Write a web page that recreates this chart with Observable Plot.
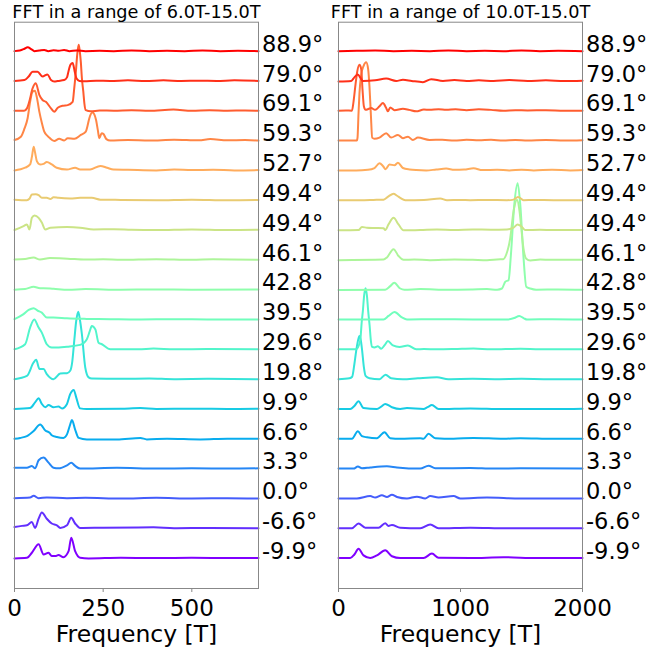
<!DOCTYPE html>
<html><head><meta charset="utf-8">
<script src="https://cdn.jsdelivr.net/npm/d3@7"></script>
<script src="https://cdn.jsdelivr.net/npm/@observablehq/plot@0.6"></script>
<style>
html,body{margin:0;padding:0;background:#fff;overflow:hidden}
#chart{position:relative;width:646px;height:651px;overflow:hidden;font-family:"DejaVu Sans"}
#chart svg{position:absolute;top:0}
</style></head><body><div id="chart"></div>
<script>
// Angle labels, bottom (index 0) to top (index 17)
const angles = ["-9.9","-6.6","0.0","3.3","6.6","9.9","19.8","29.6","39.5","42.8","46.1","49.4","49.4","52.7","59.3","69.1","79.0","88.9"];
const leftTitle = "FFT in a range of 6.0T-15.0T";
const rightTitle = "FFT in a range of 10.0T-15.0T";
const xLabel = "Frequency [T]";
const leftTicks = [0, 250, 500];
const rightTicks = [0, 1000, 2000];
const leftMax = 688;
const rightMax = 2000;

// Left panel (6.0T-15.0T): [frequency, amplitude above the trace's baseline]
const left00 = [[0,-0.01],[35,0.01],[49,0.18],[68,0.46],[82,0.12],[96,0.18],[105,0.07],[115,0.07],[124,0.1],[138,0.03],[152.5,0.23],[160,0.68],[171,0.23],[185,0.01],[209,-0.01],[300,0.01],[400,0.0],[500,0.01],[600,0.0],[688,0.0]];
const left01 = [[0,0.04],[21,0.08],[35,0.1],[49,0.21],[58,0.01],[68,0.32],[77,0.53],[91,0.32],[105,0.16],[119.5,0.1],[129,0.01],[148,0.1],[160,0.35],[171,0.16],[185,0.01],[250,0.02],[392,0.03],[450,0.0],[550,0.01],[688,0.0]];
const left02 = [[0,0.01],[44,0.03],[54,0.09],[68,0.01],[91,0.03],[148,0.01],[200,0.02],[300,0.0],[400,0.02],[500,0.0],[600,0.01],[688,0.0]];
const left03 = [[0,0.03],[35,0.03],[49,0.09],[58,0.01],[68,0.28],[82,0.37],[96,0.2],[110,0.03],[124,0.01],[148,0.11],[160,0.2],[171,0.09],[185,0.0],[289,0.03],[400,0.0],[500,0.01],[600,0.0],[688,0.01]];
const left04 = [[0,0.0],[16,0.03],[35,0.09],[54,0.26],[72.5,0.48],[87,0.28],[99,0.2],[105,0.12],[119.5,0.06],[138,0.03],[148,0.15],[157,0.48],[162,0.63],[171,0.31],[181,0.03],[204,-0.02],[289,-0.02],[355,0.03],[373,-0.02],[430,0.0],[524,-0.02],[600,0.0],[688,0.0]];
const left05 = [[0,0.0],[44,0.03],[58,0.22],[68,0.36],[77,0.17],[87,0.06],[96,0.13],[110,0.06],[124,0.08],[134,0.02],[148,0.17],[157,0.5],[167,0.64],[174,0.39],[185,0.02],[204,0.0],[300,0.01],[355,0.03],[400,0.0],[500,0.01],[600,0.0],[688,0.01]];
const left06 = [[0,0.0],[35,0.11],[54,0.56],[61,0.65],[70.6,0.34],[82,0.34],[91,0.17],[110,0.0],[129,0.19],[148,0.2],[157,0.28],[163,0.6],[168.5,1.29],[174,1.95],[179.7,2.26],[185,1.95],[190,1.51],[199.5,0.39],[209,0.06],[218,0.02],[300,0.01],[380,0.02],[450,0.0],[550,0.01],[688,0.0]];
const left07 = [[0,0.0],[30,0.17],[44,0.73],[55.6,1.0],[68,0.73],[77,0.56],[91,0.17],[105,0.06],[148,0.09],[185,0.15],[204,0.34],[212,0.6],[218,0.78],[228,0.67],[237,0.22],[246.5,0.17],[270,0.0],[350,0.0],[392,0.03],[450,0.0],[550,0.01],[688,0.0]];
const left08 = [[0,0.01],[25.5,0.18],[40,0.32],[54,0.38],[65,0.3],[77,0.23],[91,0.07],[110,0.07],[148,0.04],[204,0.02],[270,0.01],[350,0.0],[450,0.01],[550,0.0],[688,0.0]];
const left09 = [[0,0.0],[30,0.02],[54,0.1],[72,0.05],[82,0.05],[110,0.03],[152,0.0],[200,0.02],[300,0.0],[400,0.01],[500,0.0],[688,0.01]];
const left10 = [[0,0.01],[30,0.03],[54,0.08],[72,0.01],[100,0.06],[150,0.04],[200,0.01],[250,0.02],[300,0.0],[400,0.02],[500,0.0],[560,0.02],[688,0.0]];
const left11 = [[0,0.0],[25.5,0.13],[35,0.19],[42,0.02],[49,0.41],[56.5,0.49],[68,0.41],[77,0.25],[87,0.02],[101,0.08],[148,0.1],[185,0.08],[223,0.02],[280,0.03],[330,0.01],[400,0.0],[500,0.02],[600,0.0],[688,0.01]];
const left12 = [[0,0.02],[35,0.0],[42,0.05],[49,0.19],[60,0.2],[68,0.17],[77,0.08],[91,0.08],[101,0.04],[110,0.1],[124,0.08],[157,0.06],[185,0.08],[218,0.08],[242,0.02],[300,0.01],[400,0.0],[500,0.02],[600,0.0],[688,0.01]];
const left13 = [[0,0.0],[30,0.09],[44,0.2],[49,0.45],[54,0.79],[58,0.6],[63,0.31],[72,0.2],[82,0.22],[91,0.28],[105,0.2],[119,0.09],[148,0.03],[171,0.09],[185,0.03],[213,0.03],[242,0.15],[261,0.09],[279,0.03],[320,0.02],[400,0.0],[450,0.03],[500,0.01],[560,0.02],[620,0.0],[688,0.01]];
const left14 = [[0,0.02],[18,0.13],[28,0.4],[37,0.75],[44,1.3],[51,1.64],[57.5,1.67],[63,1.45],[70,0.97],[77,0.6],[84,0.3],[91,0.18],[98,0.1],[112,-0.01],[126,0.06],[140,0.0],[150,0.08],[169,0.06],[187,0.19],[201,0.3],[206,0.5],[211,0.75],[220,0.94],[225,0.88],[230,0.69],[235,0.35],[239,0.08],[246,0.25],[251,0.22],[259,0.05],[270,0.0],[320,0.02],[380,0.0],[450,0.03],[520,0.01],[552,0.05],[600,0.01],[650,0.02],[688,0.0]];
const left15 = [[0,0.0],[27,0.0],[35,0.08],[41.5,0.3],[51,0.75],[60,0.92],[70,0.53],[79,0.36],[88.5,0.3],[103,0.08],[112,-0.03],[122,0.1],[136,0.17],[150,0.19],[164,0.3],[168,0.7],[173,1.31],[177,1.9],[181,2.21],[184,2.0],[187,1.64],[190,1.1],[194,0.64],[197,0.25],[201,0.02],[215,-0.02],[240,0.01],[280,0.0],[330,0.02],[380,0.0],[448,0.04],[500,0.0],[550,0.02],[600,0.0],[650,0.01],[688,0.0]];
const left16 = [[0,0.0],[28,0.03],[40,0.15],[51,0.31],[65,0.31],[79,0.15],[93,0.22],[103,0.03],[112,-0.02],[122,0.0],[140,0.03],[148,0.12],[152,0.31],[158,0.55],[164,0.6],[170,0.3],[175,0.08],[183,0.0],[197,-0.01],[230,0.01],[270,0.0],[320,0.02],[370,0.0],[420,0.02],[470,0.0],[520,0.01],[570,0.0],[620,0.02],[688,0.0]];
const left17 = [[0,0.0],[15,0.02],[28,0.08],[37,0.13],[48,0.06],[56,0.0],[70,0.02],[84,0.04],[95,0.0],[110,0.03],[125,0.01],[140,0.04],[155,0.0],[175,0.02],[200,0.0],[240,0.01],[280,0.0],[330,0.02],[380,0.0],[430,0.01],[480,0.0],[530,0.02],[580,0.0],[630,0.01],[688,0.0]];

// Right panel (10.0T-15.0T)
const right00 = [[0,0.0],[96,0.0],[130,0.12],[164,0.31],[205,0.09],[260,0.0],[315,0.09],[383,0.26],[438,0.06],[506,0.0],[697,0.0],[766,0.15],[820,0.01],[1080,0.0],[1353,0.03],[1626,0.0],[2000,0.0]];
const right01 = [[0,0.0],[110,0.0],[164,0.16],[219,0.02],[328,0.02],[383,0.17],[410,0.08],[438,0.11],[506,0.02],[670,0.0],[752,0.13],[820,0.0],[1080,0.02],[1381,0.0],[2000,0.0]];
const right02 = [[0,0.0],[151,0.0],[260,0.08],[301,0.03],[356,0.11],[397,0.05],[438,0.12],[479,0.05],[561,0.0],[643,0.06],[711,0.0],[752,0.08],[820,0.03],[943,0.08],[998,0.0],[1217,0.03],[1490,0.0],[2000,0.0]];
const right03 = [[0,0.0],[123,0.0],[159,0.07],[192,0.01],[260,0.04],[397,0.08],[479,0.04],[670,0.0],[738,0.1],[793,0.01],[1080,0.02],[1271,0.0],[1490,0.01],[2000,0.0]];
const right04 = [[0,0.0],[110,0.0],[159,0.25],[192,0.09],[233,0.05],[315,0.02],[377,0.22],[424,0.02],[506,0.0],[670,0.02],[697,0.0],[738,0.17],[793,0.02],[943,0.0],[1107,0.03],[1353,0.0],[1490,0.02],[1763,0.0],[2000,0.0]];
const right05 = [[0,0.0],[96,0.0],[130,0.1],[164,0.26],[205,0.03],[315,0.0],[350,0.08],[383,0.17],[438,0.06],[506,0.0],[561,0.03],[697,0.0],[730,0.06],[766,0.13],[820,0.0],[1080,0.02],[1350,0.0],[1763,0.0],[2000,0.01]];
const right06 = [[0,0.0],[90,0.03],[112,0.08],[130,0.5],[145,0.95],[160,1.3],[172,1.45],[183,1.3],[194,0.95],[208,0.4],[222,0.11],[254,0.03],[336,0.0],[386,0.15],[432,0.03],[528,0.0],[650,0.03],[807,0.06],[900,0.0],[1100,0.01],[1300,0.0],[1500,0.01],[1700,0.0],[2000,0.0]];
const right07 = [[0,0.0],[145,0.0],[178,0.3],[190,0.9],[200,1.3],[210,1.8],[222,2.05],[233,1.8],[243,1.3],[255,0.8],[265,0.3],[276,0.08],[295,0.06],[323,0.1],[350,0.02],[380,0.15],[405,0.28],[446,0.13],[500,0.08],[569,0.13],[637,0.0],[700,0.01],[807,0.0],[950,0.01],[1107,0.03],[1250,0.0],[1490,0.02],[1650,0.0],[2000,0.0]];
const right08 = [[0,0.0],[369,0.0],[410,0.12],[459,0.25],[520,0.07],[561,0.0],[800,0.01],[1100,0.0],[1381,0.0],[1440,0.05],[1482,0.12],[1520,0.04],[1545,0.0],[1750,0.01],[2000,0.0]];
const right09 = [[0,-0.01],[383,0.0],[424,0.12],[457,0.23],[506,0.04],[540,0.0],[670,0.02],[900,0.0],[1100,0.01],[1217,0.02],[1300,0.0],[1340,0.04],[1367,0.27],[1394,0.32],[1413,1.16],[1441,2.85],[1468,3.57],[1490,2.85],[1517,1.05],[1539,0.1],[1572,0.04],[1620,0.0],[1800,0.01],[2000,0.0]];
const right10 = [[0,-0.01],[369,0.01],[397,0.08],[451,0.36],[492,0.13],[533,0.0],[620,0.01],[750,-0.01],[950,0.01],[1100,0.0],[1217,-0.01],[1326,0.02],[1350,0.02],[1375,0.18],[1408,0.74],[1435,1.63],[1463,2.02],[1484,1.63],[1500,1.0],[1512,0.51],[1539,0.04],[1572,-0.02],[1654,0.01],[1736,0.0],[2000,0.0]];
const right11 = [[0,-0.01],[164,0.0],[192,0.1],[233,0.08],[300,0.07],[369,0.06],[383,0.0],[410,0.19],[451,0.41],[492,0.19],[533,-0.01],[670,0.0],[807,0.02],[950,0.0],[1100,0.02],[1250,0.01],[1381,0.02],[1435,0.08],[1468,0.19],[1500,0.12],[1531,0.0],[1650,0.01],[1763,0.0],[2000,0.0]];
const right12 = [[0,0.0],[178,0.0],[287,0.01],[369,0.02],[410,0.13],[451,0.22],[480,0.15],[506,0.08],[547,0.0],[700,0.01],[834,0.06],[889,0.0],[1000,0.01],[1080,0.0],[1217,0.01],[1381,0.0],[1435,0.02],[1471,0.11],[1517,0.0],[1600,0.01],[1763,0.0],[2000,0.0]];
const right13 = [[0,0.0],[145,0.0],[241,0.02],[295,0.08],[336,0.24],[364,0.15],[386,0.04],[418,0.2],[459,0.17],[487,0.26],[528,0.08],[583,0.03],[637,0.01],[719,0.0],[801,0.03],[883,0.06],[950,0.02],[1030,0.03],[1107,0.07],[1180,0.01],[1300,0.02],[1400,0.0],[1500,0.02],[1600,0.0],[1750,0.02],[1900,0.0],[2000,0.01]];
const right14 = [[0,0.0],[100,0.0],[150,0.0],[156,0.1],[164,0.9],[172,1.6],[186,2.2],[205,2.5],[227,2.63],[243,2.4],[254,1.8],[265,0.9],[276,0.1],[295,0.06],[336,0.1],[391,0.25],[432,0.1],[487,0.19],[528,0.08],[569,0.13],[610,0.02],[651,0.1],[746,0.02],[850,0.03],[950,0.0],[1050,0.03],[1150,0.01],[1250,0.03],[1350,0.0],[1450,0.02],[1550,0.0],[1700,0.02],[1850,0.0],[2000,0.01]];
const right15 = [[0,0.0],[60,0.01],[110,0.0],[123,0.3],[140,0.9],[153,1.3],[172,1.54],[186,1.4],[197,0.7],[208,0.15],[222,0.03],[240,0.05],[268,0.09],[300,0.03],[336,0.15],[364,0.26],[390,0.1],[405,-0.02],[424,0.11],[459,0.02],[528,0.07],[580,0.03],[637,-0.02],[700,0.04],[746,0.03],[820,0.05],[883,0.03],[960,0.05],[1050,0.02],[1150,0.05],[1250,0.03],[1350,0.0],[1450,0.02],[1550,0.01],[1700,0.02],[1850,0.0],[2000,0.0]];
const right16 = [[0,-0.02],[104,0.0],[130,0.12],[159,0.22],[180,0.1],[200,0.0],[300,0.02],[391,0.08],[473,0.0],[528,0.04],[600,0.0],[692,-0.04],[760,0.06],[856,0.0],[950,0.03],[1050,0.0],[1150,0.02],[1271,0.0],[1400,0.03],[1550,0.0],[1700,0.02],[1850,0.0],[2000,0.01]];
const right17 = [[0,0.0],[150,0.01],[300,0.02],[450,0.0],[600,0.01],[750,0.0],[900,0.02],[1050,0.0],[1200,0.01],[1350,0.0],[1500,0.02],[1650,0.0],[1800,0.01],[2000,0.0]];

const leftTraces = [left00,left01,left02,left03,left04,left05,left06,left07,left08,left09,left10,left11,left12,left13,left14,left15,left16,left17];
const rightTraces = [right00,right01,right02,right03,right04,right05,right06,right07,right08,right09,right10,right11,right12,right13,right14,right15,right16,right17];

// matplotlib "rainbow" colormap
function mplRainbow(t) {
  const r = Math.min(1, Math.abs(2 * t - 0.5));
  const g = Math.sin(Math.PI * t);
  const b = Math.cos(Math.PI * t / 2);
  return `rgb(${Math.round(r*255)},${Math.round(g*255)},${Math.round(b*255)})`;
}

function rowsOf(traces) {
  const rows = [];
  traces.forEach((tr, i) => tr.forEach(([f, a]) => rows.push({idx: i, f, y: i + a})));
  return rows;
}

function panel(traces, xmax, ticks, title, left, mLeft, mRight) {
  const labels = angles.map((a, i) => ({i, text: a + "\u00B0"}));
  const svg = Plot.plot({
    width: 323, height: 651,
    marginTop: 21.7, marginBottom: 63, marginLeft: mLeft, marginRight: mRight,
    x: {domain: [0, xmax]},
    y: {domain: [-1.02, 17.97], axis: null},
    style: {fontFamily: "DejaVu Sans", fontSize: "23px", background: "transparent", overflow: "visible", color: "black"},
    marks: [
      Plot.line(rowsOf(traces), {x: "f", y: "y", z: "idx", stroke: d => mplRainbow(d.idx / 17), strokeWidth: 2, curve: "monotone-x"}),
      Plot.frame({stroke: "#888"}),
      Plot.axisX({ticks, tickSize: 4, tickPadding: 7, stroke: "#888", fill: "black", fontSize: 23, tickFormat: d => String(d), label: null}),
      Plot.text(labels, {y: "i", text: "text", frameAnchor: "right", textAnchor: "start", lineAnchor: "middle", dx: 3.5, dy: -6.5, fontSize: 22.5}),
      Plot.text([title], {text: d => d, frameAnchor: "top", lineAnchor: "middle", dy: -10, fontSize: 17.7}),
      Plot.text([xLabel], {text: d => d, frameAnchor: "bottom", lineAnchor: "middle", dy: 45.5, fontSize: 23.5})
    ]
  });
  svg.style.left = left + "px";
  return svg;
}

const chart = document.getElementById("chart");
chart.appendChild(panel(leftTraces, leftMax, leftTicks, leftTitle, 0, 14, 65));
chart.appendChild(panel(rightTraces, rightMax, rightTicks, rightTitle, 323, 15, 64));
</script></body></html>
